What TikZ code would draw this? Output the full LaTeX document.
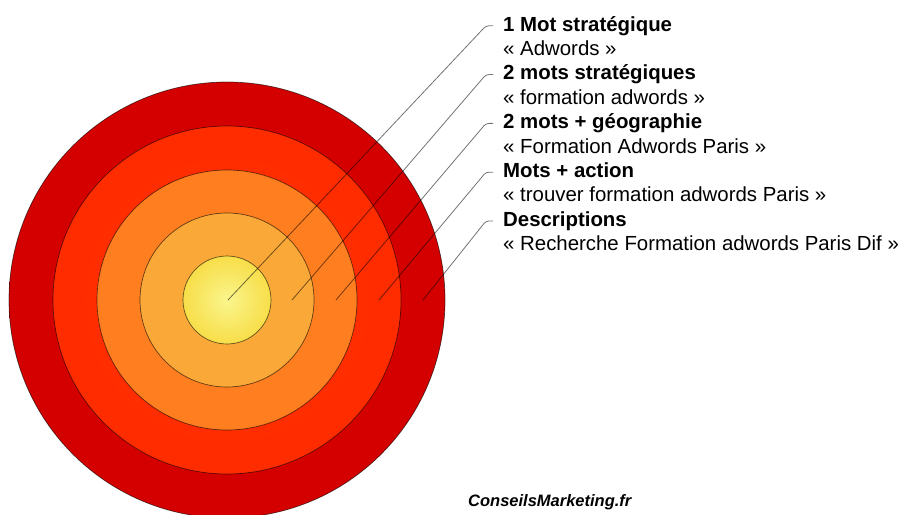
\documentclass[tikz,border=0pt]{standalone}
\usepackage{fontspec}
\setmainfont{Liberation Sans}
\usepackage{tikz}
\usetikzlibrary{positioning}
\pgfdeclareradialshading{outershade}{\pgfpoint{0bp}{0bp}}{rgb(0bp)=(0.83,0,0); rgb(50bp)=(0.83,0,0)}
\pgfdeclareradialshading{redshade}{\pgfpoint{0bp}{0bp}}{rgb(0bp)=(1,0.18,0); rgb(37bp)=(1,0.17,0); rgb(50bp)=(1,0.04,0)}
\pgfdeclareradialshading{orangeshade}{\pgfpoint{0bp}{0bp}}{rgb(0bp)=(1,0.5,0.12); rgb(33bp)=(1,0.49,0.12); rgb(50bp)=(0.98,0.39,0.06)}
\pgfdeclareradialshading{lightshade}{\pgfpoint{0bp}{0bp}}{rgb(0bp)=(0.98,0.67,0.22); rgb(25bp)=(0.98,0.66,0.22); rgb(50bp)=(0.97,0.6,0.17)}
\pgfdeclareradialshading{coreshade}{\pgfpoint{0bp}{0bp}}{rgb(0bp)=(0.98,0.96,0.55); rgb(50bp)=(0.96,0.78,0.02)}
\tikzset{%
	ring/.style   = {draw=black, draw opacity=0.6, line width=0.7pt},
	leader/.style = {draw=black, draw opacity=0.55, line width=0.8pt, rounded corners=3pt},
	title/.style  = {font=\bfseries\fontsize{20.4}{24}\selectfont, inner sep=0pt, text height=15pt, text depth=4.5pt},
	sub/.style    = {font=\fontsize{20.4}{24}\selectfont, inner sep=0pt, text height=15pt, text depth=4.5pt},
	brand/.style  = {font=\bfseries\itshape\fontsize{16.5}{20}\selectfont, inner sep=0pt},
}
\begin{document}
\begin{tikzpicture}[x=1pt,y=-1pt]
		\useasboundingbox (0,0) rectangle (901,514);
		\coordinate (ctr) at (227,300);
		
		\foreach \r/\sh in {218/outershade,174/redshade,130/orangeshade,87/lightshade,44/coreshade} \shade[ring, shading=\sh] (ctr) circle[radius=\r pt];
		
		\foreach \i/\dx in {1/1,2/65,3/109,4/152,5/196} \coordinate (p\i) at ([xshift=\dx pt]ctr);
		
		\node[title, anchor=base west] (t1) at (503,31) {1 Mot stratégique};
		\node[sub, below right=4.5pt and 0pt of t1.south west] (s1) {« Adwords »};
		\node[title, below right=4.5pt and 0pt of s1.south west] (t2) {2 mots stratégiques};
		\node[sub, below right=4.5pt and 0pt of t2.south west] (s2) {« formation adwords »};
		\node[title, below right=4.5pt and 0pt of s2.south west] (t3) {2 mots + géographie};
		\node[sub, below right=4.5pt and 0pt of t3.south west] (s3) {« Formation Adwords Paris »};
		\node[title, below right=4.5pt and 0pt of s3.south west] (t4) {Mots + action};
		\node[sub, below right=4.5pt and 0pt of t4.south west] (s4) {« trouver formation adwords Paris »};
		\node[title, below right=4.5pt and 0pt of s4.south west] (t5) {Descriptions};
		\node[sub, below right=4.5pt and 0pt of t5.south west] (s5) {« Recherche Formation adwords Paris Dif »};
		
		\foreach \i in {1,...,5} \draw[leader] (p\i) -- ([xshift=-17pt]t\i.west) -- ([xshift=-10pt]t\i.west);
		
		\node[brand, anchor=base west] (site) at (468,506) {ConseilsMarketing.fr};
	\end{tikzpicture}
\end{document}
